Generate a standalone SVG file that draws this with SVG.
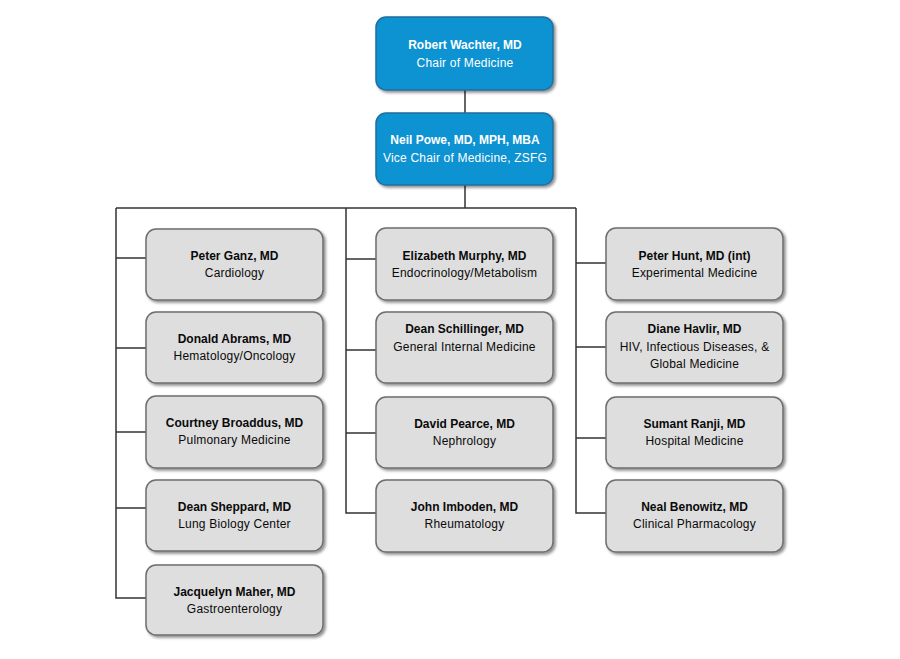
<svg xmlns="http://www.w3.org/2000/svg" width="900" height="659" viewBox="0 0 900 659">
<defs>
<filter id="sh" x="-10%" y="-10%" width="130%" height="140%">
<feGaussianBlur in="SourceAlpha" stdDeviation="1.5"/>
<feOffset dx="1.5" dy="2" result="b"/>
<feComponentTransfer><feFuncA type="linear" slope="0.45"/></feComponentTransfer>
<feMerge><feMergeNode/><feMergeNode in="SourceGraphic"/></feMerge>
</filter>
</defs>
<style>
.blue{fill:#0a92d2;stroke:#236e9e;stroke-width:1.5}
.gray{fill:#dedede;stroke:#6e6e6e;stroke-width:1.5}
text{font-family:"Liberation Sans",Arial,sans-serif;font-size:12px;letter-spacing:0.2px;text-anchor:middle}
.b{font-weight:bold;letter-spacing:0}
.w{fill:#ffffff}
.k{fill:#0a0a0a}
.c{fill:none;stroke:#333333;stroke-width:1.5}
</style>
<rect width="900" height="659" fill="#ffffff"/>
<g id="connectors">
<path class="c" d="M465,90V113M465,185V208M116,208H576M116,208V598H146M116,258H146M116,348H146M116,432H146M116,508H146M346,208V513H376M346,259H376M346,350H376M346,433H376M576,208V513H606M576,263H606M576,347H606M576,438H606"/>
</g>
<g id="wachter"><rect class="blue" x="376" y="17" width="177" height="73" rx="10" filter="url(#sh)"/><text class="w b" x="465" y="49">Robert Wachter, MD</text><text class="w" x="465" y="67">Chair of Medicine</text></g>
<g id="powe"><rect class="blue" x="376" y="113" width="177" height="72" rx="10" filter="url(#sh)"/><text class="w b" x="465" y="144">Neil Powe, MD, MPH, MBA</text><text class="w" x="465" y="162">Vice Chair of Medicine, ZSFG</text></g>

<g id="ganz"><rect class="gray" x="146" y="229" width="177" height="71" rx="10" filter="url(#sh)"/><text class="k b" x="234.5" y="260">Peter Ganz, MD</text><text class="k" x="234.5" y="277">Cardiology</text></g>
<g id="abrams"><rect class="gray" x="146" y="312" width="177" height="71" rx="10" filter="url(#sh)"/><text class="k b" x="234.5" y="343">Donald Abrams, MD</text><text class="k" x="234.5" y="360">Hematology/Oncology</text></g>
<g id="broaddus"><rect class="gray" x="146" y="396" width="177" height="72" rx="10" filter="url(#sh)"/><text class="k b" x="234.5" y="427">Courtney Broaddus, MD</text><text class="k" x="234.5" y="444">Pulmonary Medicine</text></g>
<g id="sheppard"><rect class="gray" x="146" y="480" width="177" height="71" rx="10" filter="url(#sh)"/><text class="k b" x="234.5" y="511">Dean Sheppard, MD</text><text class="k" x="234.5" y="528">Lung Biology Center</text></g>
<g id="maher"><rect class="gray" x="146" y="565" width="177" height="70" rx="10" filter="url(#sh)"/><text class="k b" x="234.5" y="596">Jacquelyn Maher, MD</text><text class="k" x="234.5" y="613">Gastroenterology</text></g>

<g id="murphy"><rect class="gray" x="376" y="228" width="177" height="72" rx="10" filter="url(#sh)"/><text class="k b" x="464.5" y="260">Elizabeth Murphy, MD</text><text class="k" x="464.5" y="277">Endocrinology/Metabolism</text></g>
<g id="schillinger"><rect class="gray" x="376" y="312" width="177" height="71" rx="10" filter="url(#sh)"/><text class="k b" x="464.5" y="333">Dean Schillinger, MD</text><text class="k" x="464.5" y="351">General Internal Medicine</text></g>
<g id="pearce"><rect class="gray" x="376" y="397" width="177" height="71" rx="10" filter="url(#sh)"/><text class="k b" x="464.5" y="428">David Pearce, MD</text><text class="k" x="464.5" y="445">Nephrology</text></g>
<g id="imboden"><rect class="gray" x="376" y="480" width="177" height="72" rx="10" filter="url(#sh)"/><text class="k b" x="464.5" y="511">John Imboden, MD</text><text class="k" x="464.5" y="528">Rheumatology</text></g>

<g id="hunt"><rect class="gray" x="606" y="228" width="177" height="72" rx="10" filter="url(#sh)"/><text class="k b" x="694.5" y="260">Peter Hunt, MD (int)</text><text class="k" x="694.5" y="277">Experimental Medicine</text></g>
<g id="havlir"><rect class="gray" x="606" y="312" width="177" height="71" rx="10" filter="url(#sh)"/><text class="k b" x="694.5" y="333">Diane Havlir, MD</text><text class="k" x="694.5" y="351">HIV, Infectious Diseases, &amp;</text><text class="k" x="694.5" y="368">Global Medicine</text></g>
<g id="ranji"><rect class="gray" x="606" y="397" width="177" height="71" rx="10" filter="url(#sh)"/><text class="k b" x="694.5" y="428">Sumant Ranji, MD</text><text class="k" x="694.5" y="445">Hospital Medicine</text></g>
<g id="benowitz"><rect class="gray" x="606" y="480" width="177" height="72" rx="10" filter="url(#sh)"/><text class="k b" x="694.5" y="511">Neal Benowitz, MD</text><text class="k" x="694.5" y="528">Clinical Pharmacology</text></g>
</svg>
